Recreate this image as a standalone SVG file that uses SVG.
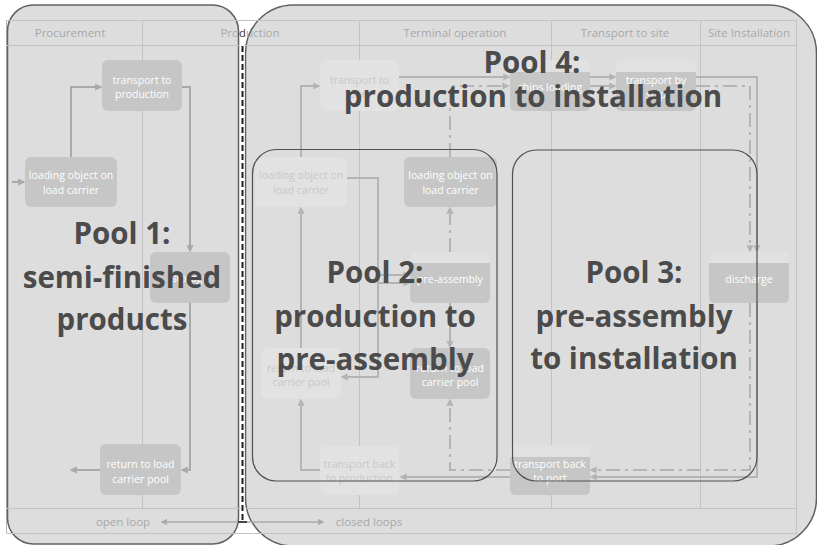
<svg xmlns="http://www.w3.org/2000/svg" width="817" height="545" viewBox="0 0 817 545">
<defs>
<style>
.lane{stroke:#c3c3c3;stroke-width:1;fill:none}
.outer{stroke:#b4b4b4;stroke-width:1;fill:none}
.hdr{font-family:'Open Sans',sans-serif;font-size:11.5px;fill:#a8a8a8;text-anchor:middle}
.pool{fill:#dddddd;stroke:#616161;stroke-width:1.5}
.sub{fill:none;stroke:#505050;stroke-width:1.2}
.nd{fill:#c6c6c6}
.fd{fill:#e2e2e2}
.lt{fill:#e1e1e1}
.nt{font-family:'Open Sans',sans-serif;font-size:10.5px;fill:#ffffff;text-anchor:middle}
.ft{font-family:'Open Sans',sans-serif;font-size:10.5px;fill:#c8c8c8;text-anchor:middle}
.big{font-family:'Open Sans',sans-serif;font-weight:700;font-size:29.5px;fill:#4b4b4b;text-anchor:middle}
.c1{stroke:#a9a9a9;stroke-width:2;fill:none;marker-end:url(#a1)}
.c2{stroke:#b4b4b4;stroke-width:2;fill:none;marker-end:url(#a2)}
.dd{stroke-dasharray:14 5 3 5}
.loop{stroke:#ababab;stroke-width:1.5;fill:none;marker-start:url(#a3);marker-end:url(#a3)}
</style>
<marker id="a1" viewBox="0 0 10 10" refX="8" refY="5" markerWidth="3.6" markerHeight="3.6" orient="auto"><path d="M0 0L10 5L0 10z" fill="#a9a9a9"/></marker>
<marker id="a2" viewBox="0 0 10 10" refX="8" refY="5" markerWidth="3.6" markerHeight="3.6" orient="auto"><path d="M0 0L10 5L0 10z" fill="#b4b4b4"/></marker>
<marker id="a3" viewBox="0 0 10 10" refX="8" refY="5" markerWidth="4.5" markerHeight="4.5" orient="auto-start-reverse"><path d="M0 0L10 5L0 10z" fill="#ababab"/></marker>
<linearGradient id="pg" gradientUnits="userSpaceOnUse" x1="0" y1="0" x2="817" y2="0">
<stop offset="0.2913" stop-color="#a8a8a8"/><stop offset="0.2913" stop-color="#3a3a3a"/>
<stop offset="0.2999" stop-color="#3a3a3a"/><stop offset="0.2999" stop-color="#a8a8a8"/>
</linearGradient>
</defs>
<rect width="817" height="545" fill="#ffffff"/>
<rect class="outer" x="6.5" y="20.5" width="790" height="513"/>

<g id="pools">
<rect id="pool1" class="pool" x="7.5" y="5" width="231" height="539" rx="26"/>
<rect id="pool4" class="pool" x="245.5" y="5" width="571" height="541" rx="48"/>
</g>

<g id="lanes">
<line class="lane" x1="6" y1="20.5" x2="797" y2="20.5"/>
<line class="lane" x1="6" y1="45.5" x2="797" y2="45.5"/>
<line class="lane" x1="6" y1="508.5" x2="797" y2="508.5"/>
<line class="lane" x1="6" y1="533.5" x2="797" y2="533.5"/>
<line class="lane" x1="142.5" y1="20" x2="142.5" y2="508"/>
<line class="lane" x1="359.5" y1="20" x2="359.5" y2="508"/>
<line class="lane" x1="551.5" y1="20" x2="551.5" y2="508"/>
<line class="lane" x1="700.5" y1="20" x2="700.5" y2="508"/>
<line class="lane" x1="796.5" y1="20" x2="796.5" y2="534"/>
<text class="hdr" x="70" y="37">Procurement</text>
<text class="hdr" x="250" y="37" fill="url(#pg)" style="fill:url(#pg)">Production</text>
<text class="hdr" x="455" y="37">Terminal operation</text>
<text class="hdr" x="625" y="37">Transport to site</text>
<text class="hdr" x="749" y="37">Site Installation</text>
<line x1="242.5" y1="45" x2="242.5" y2="522" stroke="#ffffff" stroke-width="4"/>
<line x1="242.5" y1="46" x2="242.5" y2="521" stroke="#1e1e1e" stroke-width="2" stroke-dasharray="6 3"/>
<text class="hdr" x="123" y="526">open loop</text>
<text class="hdr" x="369" y="526">closed loops</text>
</g>

<g id="connectors">
<path class="c1" d="M12 182H24"/>
<path class="c1" d="M71 157V87H101"/>
<path class="c1" d="M182 87H190V251"/>
<path class="c1" d="M190 303V470H182"/>
<path class="c1" d="M100 470H71"/>
<path class="c2" d="M301 157V86H319"/>
<path class="c2" d="M399 77H509"/>
<path class="c2" d="M590 77H615"/>
<path class="c2" d="M590 86H615"/>
<path class="c2" d="M696 77H757V251"/>
<path class="c2 dd" d="M696 86H750V251"/>
<path class="c2" d="M757 303V477H591"/>
<path class="c2 dd" d="M750 303V470H591"/>
<path class="c2" d="M510 477H401"/>
<path class="c2 dd" d="M510 470H450V400"/>
<path class="c2" d="M320 470H301V400"/>
<path class="c2" d="M301 348V208"/>
<path class="c2" d="M347 178H378V377H342"/>
<path class="c2" d="M378 275H409"/>
<path class="c2" d="M378 283H409"/>
<path class="c2" d="M450 303V347"/>
<path class="c2 dd" d="M450 252V208"/>
<path class="c2 dd" d="M450 157V86H508"/>
<path class="loop" d="M162 522H323"/>
<line x1="238" y1="522" x2="247" y2="522" stroke="#1e1e1e" stroke-width="1.5"/>
</g>

<g id="n1"><rect class="nd" x="25" y="157" width="92" height="50" rx="6"/><text class="nt" x="71" y="179">loading object on</text><text class="nt" x="71" y="194">load carrier</text></g>
<g id="n2"><rect class="nd" x="102" y="60" width="80" height="51" rx="6"/><text class="nt" x="142" y="84">transport to</text><text class="nt" x="142" y="98">production</text></g>
<g id="n3"><rect class="nd" x="150" y="252" width="80" height="51" rx="6"/><text class="nt" x="190" y="282">storage</text></g>
<g id="n4"><rect class="nd" x="100" y="444" width="81" height="51" rx="6"/><text class="nt" x="140.5" y="468">return to load</text><text class="nt" x="140.5" y="483">carrier pool</text></g>
<g id="n5"><rect class="fd" x="320" y="60" width="79" height="51" rx="6"/><text class="ft" x="359.5" y="84">transport to</text><text class="ft" x="359.5" y="98">port</text></g>
<g id="n6"><rect class="fd" x="255" y="157" width="92" height="50" rx="6"/><text class="ft" x="301" y="179">loading object on</text><text class="ft" x="301" y="194">load carrier</text></g>
<g id="n7"><rect class="nd" x="404" y="157" width="93" height="50" rx="6"/><text class="nt" x="450.5" y="179">loading object on</text><text class="nt" x="450.5" y="194">load carrier</text></g>
<g id="n8"><rect class="lt" x="410" y="252" width="80" height="51" rx="6"/><path class="nd" d="M410 263H490V297Q490 303 484 303H416Q410 303 410 297Z"/><text class="nt" x="450" y="283">pre-assembly</text></g>
<g id="n9"><rect class="fd" x="261" y="348" width="80" height="51" rx="6"/><text class="ft" x="301" y="372">return to load</text><text class="ft" x="301" y="386">carrier pool</text></g>
<g id="n10"><rect class="nd" x="410" y="348" width="80" height="51" rx="6"/><text class="nt" x="450" y="372">return to load</text><text class="nt" x="450" y="386">carrier pool</text></g>
<g id="n11"><rect class="fd" x="320" y="446" width="79" height="49" rx="6"/><text class="ft" x="359.5" y="468">transport back</text><text class="ft" x="359.5" y="482">to production</text></g>
<g id="n12"><rect class="lt" x="510" y="60" width="80" height="51" rx="6"/><path class="nd" d="M510 72H590V105Q590 111 584 111H516Q510 111 510 105Z"/><text class="nt" x="550" y="91">ships loading</text></g>
<g id="n13"><rect class="lt" x="616" y="59" width="80" height="52" rx="6"/><path class="nd" d="M616 72H696V105Q696 111 690 111H622Q616 111 616 105Z"/><text class="nt" x="656" y="84">transport by</text><text class="nt" x="656" y="98">ship</text></g>
<g id="n14"><rect class="lt" x="709" y="252" width="80" height="51" rx="6"/><path class="nd" d="M709 263H789V297Q789 303 783 303H715Q709 303 709 297Z"/><text class="nt" x="749" y="283">discharge</text></g>
<g id="n15"><rect class="lt" x="510" y="445" width="80" height="50" rx="6"/><path class="nd" d="M510 457H590V489Q590 495 584 495H516Q510 495 510 489Z"/><text class="nt" x="550" y="468">transport back</text><text class="nt" x="550" y="482">to port</text></g>

<g id="subpools">
<rect id="pool2" class="sub" x="252.5" y="149.5" width="244.5" height="331.5" rx="24"/>
<rect id="pool3" class="sub" x="512.5" y="150" width="244.5" height="331" rx="24"/>
</g>

<g id="labels">
<text class="big" x="122" y="244">Pool 1:</text>
<text class="big" x="122" y="288">semi-finished</text>
<text class="big" x="122" y="330">products</text>
<text class="big" x="375" y="283">Pool 2:</text>
<text class="big" x="375" y="327">production to</text>
<text class="big" x="375" y="370">pre-assembly</text>
<text class="big" x="634" y="283">Pool 3:</text>
<text class="big" x="634" y="327">pre-assembly</text>
<text class="big" x="634" y="369">to installation</text>
<text class="big" x="532" y="73">Pool 4:</text>
<text class="big" x="533" y="107">production to installation</text>
</g>
</svg>
